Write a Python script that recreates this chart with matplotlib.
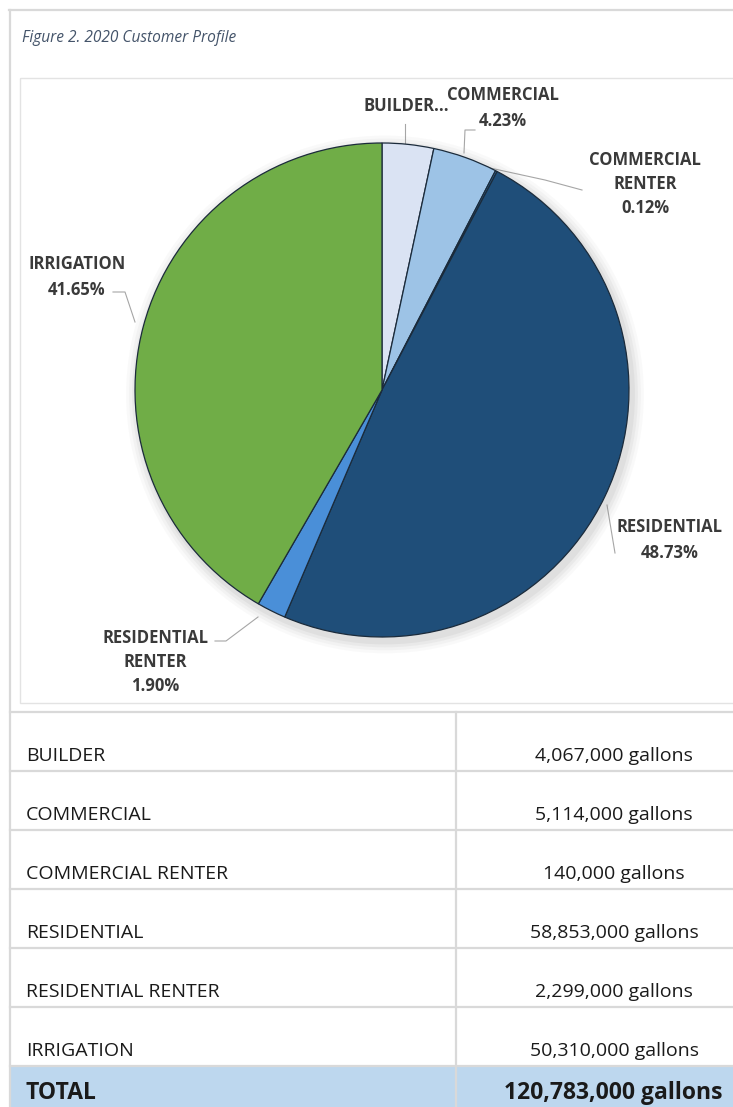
import matplotlib
matplotlib.use("Agg")
import matplotlib.pyplot as plt
from matplotlib.patches import Rectangle, Circle

# data
categories = ["BUILDER", "COMMERCIAL", "COMMERCIAL RENTER", "RESIDENTIAL",
              "RESIDENTIAL RENTER", "IRRIGATION"]
gallons = [4067000, 5114000, 140000, 58853000, 2299000, 50310000]
colors = ["#dae3f3", "#9dc3e6", "#2e75b6", "#1f4e79", "#4a8fd8", "#70ad47"]

total = sum(gallons)
percents = [g / total * 100 for g in gallons]

W, H = 733, 1107
fig = plt.figure(figsize=(W / 100, H / 100), dpi=100)

# page axes in pixel coordinates
ax = fig.add_axes([0, 0, 1, 1])
ax.set_xlim(0, W)
ax.set_ylim(H, 0)
ax.axis("off")

grid = "#d9d9d9"
# outer frame
ax.plot([9, W], [10, 10], color=grid, lw=1.6)
ax.plot([10, 10], [10, H], color=grid, lw=1.6)
# chart box
ax.add_patch(Rectangle((20, 78), W, 625, fill=False, ec="#e3e3e3", lw=1.0))

ax.text(22, 38, "Figure 2. 2020 Customer Profile", fontsize=11.2, style="italic",
        family="Open Sans", color="#44546a", va="center", ha="left")

# table
table_top = 712
row_h = 59
n = len(categories)
total_top = table_top + n * row_h
ax.add_patch(Rectangle((10, total_top), W, H - total_top, color="#bdd7ee", lw=0))
for i in range(n + 1):
    y = table_top + i * row_h
    ax.plot([10, W], [y, y], color=grid, lw=1.6)
ax.plot([456, 456], [table_top, H], color=grid, lw=1.6)

tfont = dict(family="Open Sans", color="#1a1a1a", va="center")
for i, (name, g) in enumerate(zip(categories, gallons)):
    y = table_top + i * row_h + 44
    ax.text(26, y, name, ha="left", fontsize=14, **tfont)
    ax.text(614, y, f"{g:,} gallons", ha="center", fontsize=14, **tfont)
ax.text(26, 1093, "TOTAL", ha="left", fontweight="bold", fontsize=16.5, **tfont)
ax.text(613, 1093, f"{total:,} gallons", ha="center", fontweight="bold",
        fontsize=16.5, **tfont)

# pie labels
lfont = dict(family="Open Sans", fontweight="bold", fontsize=12, color="#3a3a3a",
             ha="center", va="center")
label_text = [
    "BUILDER...",
    f"COMMERCIAL\n{percents[1]:.2f}%",
    f"COMMERCIAL\nRENTER\n{percents[2]:.2f}%",
    f"RESIDENTIAL\n{percents[3]:.2f}%",
    f"RESIDENTIAL\nRENTER\n{percents[4]:.2f}%",
    f"IRRIGATION\n{percents[5]:.2f}%",
]
label_pos = [(406, 106), (503, 108), (645, 184), (670, 540), (155, 662), (77, 277)]
leaders = [
    [(405, 124), (405, 143)],
    [(475, 130), (465, 130), (464, 153)],
    [(582, 190), (545, 180), (490, 168)],
    [(607, 505), (615, 553)],
    [(215, 641), (226, 641), (258, 617)],
    [(113, 292), (125, 292), (135, 322)],
]
for txt, (x, y) in zip(label_text, label_pos):
    ls = 1.6 if txt.count("\n") == 1 else 1.4
    ax.text(x, y, txt, linespacing=ls, **lfont)
for pts in leaders:
    xs, ys = zip(*pts)
    ax.plot(xs, ys, color="#a6a6a6", lw=0.8)

# pie
cx, cy, r = 382, 390, 247
pax = fig.add_axes([(cx - r) / W, 1 - (cy + r) / H, 2 * r / W, 2 * r / H])
for k, a in enumerate([0.04, 0.05, 0.07, 0.09]):
    pax.add_patch(Circle((0.012, -0.018), 1.0 + 0.012 * (4 - k), color="#7f7f7f",
                         alpha=a, lw=0, zorder=0, clip_on=False))
pax.pie(gallons, colors=colors, startangle=90, counterclock=False, radius=1.0,
        wedgeprops=dict(edgecolor="#1b2b3b", linewidth=0.9))
pax.set_xlim(-1, 1)
pax.set_ylim(-1, 1)
pax.set_aspect("equal")
pax.axis("off")

fig.savefig("out.png", dpi=100)
